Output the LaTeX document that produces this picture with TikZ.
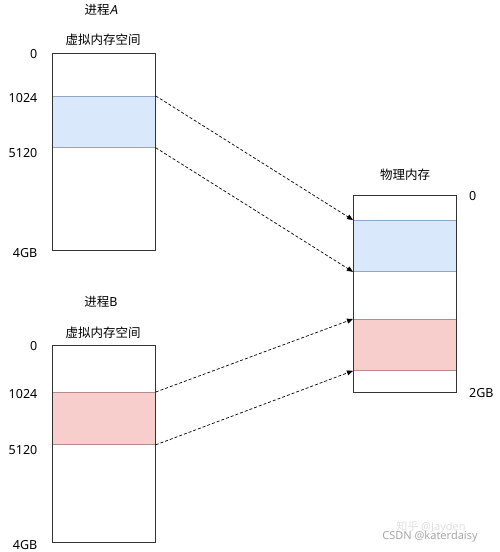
\documentclass[tikz,border=0pt]{standalone}
\usepackage{fontspec}
\setmainfont{Noto Sans}
\newfontfamily\cjk{Noto Sans CJK SC}
\newfontfamily\slantfont[FakeSlant=0.2]{Noto Sans}
\usetikzlibrary{arrows.meta,positioning}
\definecolor{bandblue}{HTML}{DAE8FC}
\definecolor{bandblueline}{HTML}{8FA6C4}
\definecolor{bandred}{HTML}{F8CECC}
\definecolor{bandredline}{HTML}{B88A88}

\begin{document}
\begin{tikzpicture}[x=1pt,y=-1pt,font=\fontsize{12.5}{14}\selectfont,
membox/.style={draw=black!80,line width=0.8pt,inner sep=0pt,minimum width=103pt,minimum height=197pt,anchor=north west},
blueband/.style={fill=bandblue,draw=bandblueline,line width=0.8pt,inner sep=0pt,minimum width=103pt,minimum height=51pt,anchor=north west},
redband/.style={fill=bandred,draw=bandredline,line width=0.8pt,inner sep=0pt,minimum width=103pt,minimum height=52pt,anchor=north west},
maparrow/.style={densely dashed,dash pattern=on 3pt off 2pt,line width=0.7pt,-{Triangle[length=6pt,width=5pt]}},
addr/.style={anchor=east,inner sep=0pt}]

\useasboundingbox (0,0) rectangle (500,552);

% Process A
\node (titleA) at (101,10) {{\cjk 进程}{\slantfont A}};
\node (vmlabelA) at (103,40) {\cjk 虚拟内存空间};
\node[blueband] (bandA) at (52,96) {};
\node[membox] (vmA) at (52,53) {};
\foreach \lab/\y in {0/54,1024/98,5120/153,4GB/253} \node[addr] (addrA-\lab) at (37.5,\y) {\lab};

% Process B
\node (titleB) at (101,302) {{\cjk 进程}B};
\node (vmlabelB) at (103,333) {\cjk 虚拟内存空间};
\node[redband] (bandB) at (52,392) {};
\node[membox] (vmB) at (52,345) {};
\foreach \lab/\y in {0/346,1024/394,5120/450,4GB/545} \node[addr] (addrB-\lab) at (37.5,\y) {\lab};

% Physical memory
\node (pmlabel) at (405,175) {\cjk 物理内存};
\node[blueband] (pblue) at (353,220) {};
\node[redband,minimum height=51pt] (pred) at (353,319) {};
\node[membox] (pm) at (353,195) {};
\node[anchor=west,inner sep=0pt] (pmtop) at (469,196) {0};
\node[anchor=west,inner sep=0pt] (pmend) at (469,393) {2GB};

% Mappings
\draw[maparrow] (bandA.north east) -- (pblue.north west);
\draw[maparrow] (bandA.south east) -- (pblue.south west);
\draw[maparrow] (bandB.north east) -- (pred.north west);
\draw[maparrow] (bandB.south east) -- (pred.south west);

% Watermarks
\node[gray!25,font=\fontsize{11}{12}\selectfont] (wm1) at (431,527) {{\cjk 知乎} @Jayden};
\node[gray!70,font=\fontsize{11}{12}\selectfont] (wm2) at (430,537) {CSDN @katerdaisy};

\end{tikzpicture}
\end{document}
